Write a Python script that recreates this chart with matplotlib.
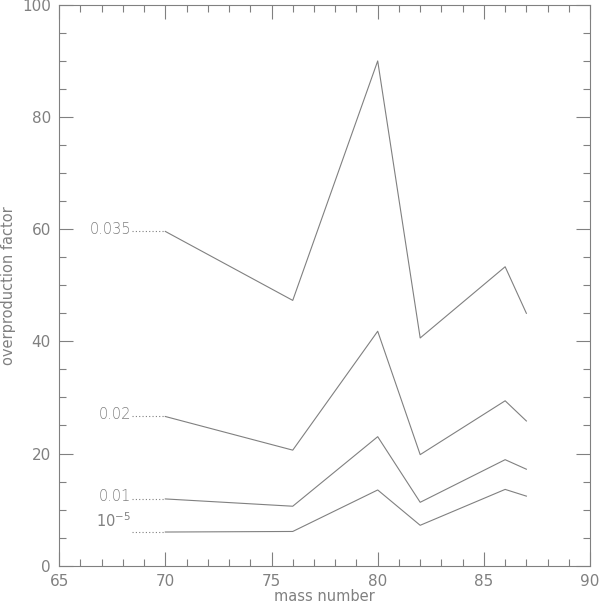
import matplotlib
matplotlib.use("Agg")
import matplotlib.pyplot as plt
from matplotlib.ticker import MultipleLocator

# mass numbers of the plotted isotopes
mass = [70, 76, 80, 82, 86, 87]

# overproduction factor for each metallicity
labels = ["0.035", "0.02", "0.01", r"$10^{-5}$"]
z_0035 = [59.6, 47.3, 90.0, 40.6, 53.3, 45.0]
z_002 = [26.6, 20.6, 41.8, 19.8, 29.4, 25.8]
z_001 = [11.9, 10.6, 23.0, 11.3, 18.9, 17.2]
z_1e5 = [6.0, 6.1, 13.5, 7.2, 13.6, 12.4]
series = [z_0035, z_002, z_001, z_1e5]

grey = "#808080"
plt.rcParams["font.family"] = ["DejaVu Sans"]
plt.rcParams["mathtext.fontset"] = "dejavusans"

fig = plt.figure(figsize=(6, 6.05), dpi=100)
ax = fig.add_axes([0.0985, 0.065, 0.885, 0.927])

for lab, vals in zip(labels, series):
    ax.plot(mass, vals, color=grey, lw=0.8)
    # dotted leader from the label to the first point
    ax.plot([68.45, mass[0]], [vals[0], vals[0]], color=grey, lw=0.8, ls=(0, (1, 2)))
    ax.text(68.4, vals[0] + 0.4, lab, ha="right", va="bottom" if lab.startswith("$") else "center",
            color=grey, fontsize=10.5, fontweight="light")

ax.set_xlim(65, 90)
ax.set_ylim(0, 100)
ax.xaxis.set_major_locator(MultipleLocator(5))
ax.xaxis.set_minor_locator(MultipleLocator(1))
ax.yaxis.set_major_locator(MultipleLocator(20))
ax.yaxis.set_minor_locator(MultipleLocator(5))
ax.tick_params(which="both", direction="in", top=True, right=True, colors=grey,
               labelcolor=grey, labelsize=11, width=0.8)
ax.tick_params(which="major", length=10, pad=6)
ax.tick_params(which="minor", length=5)
for sp in ax.spines.values():
    sp.set_color(grey)
    sp.set_linewidth(0.8)

ax.set_xlabel("mass number", color=grey, fontsize=10.5, labelpad=0)
ax.set_ylabel("overproduction factor", color=grey, fontsize=10.5, labelpad=4)

fig.savefig("out.png", dpi=100)
